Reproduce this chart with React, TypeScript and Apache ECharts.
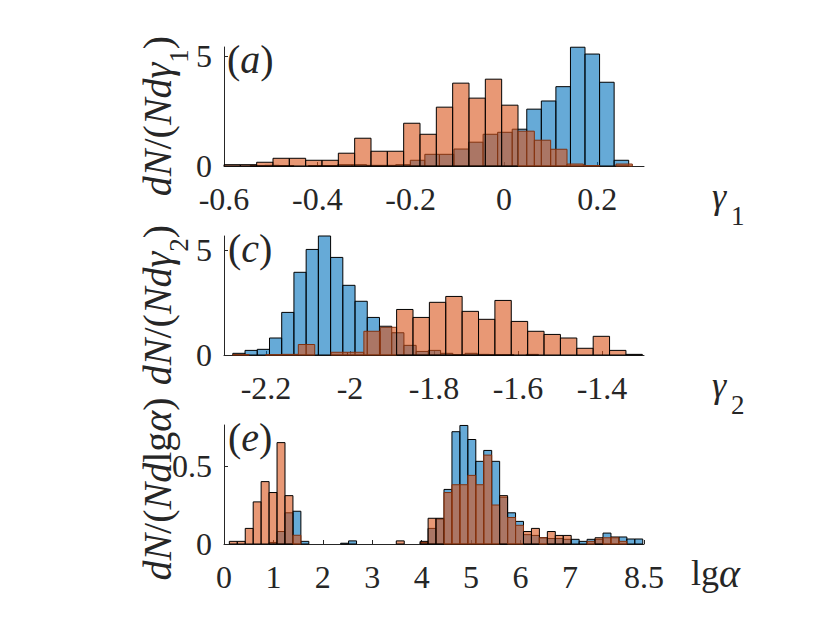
import React, { useEffect, useRef } from "react";
import * as echarts from "echarts";

// ---------- Panel (a): gamma_1 ----------
const aBlueStart = -0.544;
const aBlueWidth = 0.0312;
const aBlue = [0.02, 0.03, 0.02, 0, 0.02, 0.02, 0.06, 0.06, 0.03, 0.03, 0.06, 0.26, 0.53, 0.53, 0.77, 1.08, 1.44, 1.53, 1.67, 2.58, 2.95, 3.6, 5.39, 5.08, 3.8, 0.26];
const aOrangeStart = -0.6;
const aOrangeWidth = 0.035;
const aOrange = [0.06, 0.06, 0.17, 0.35, 0.35, 0.26, 0.26, 0.58, 1.26, 0.67, 0.67, 1.94, 1.44, 2.67, 3.76, 3.08, 3.94, 2.76, 1.58, 1.17, 0.76, 0.09, 0.02, 0, 0.09];
const aXRange = [-0.6, 0.3];
const aYRange = [0, 5.4];
const aXTicks = [-0.6, -0.4, -0.2, 0, 0.2];
const aYTicks = [0, 5];

// ---------- Panel (c): gamma_2 ----------
const cBlueStart = -2.279;
const cBlueWidth = 0.0291;
const cBlue = [0.08, 0.22, 0.27, 0.81, 2.03, 3.94, 5.03, 5.67, 4.65, 3.32, 2.56, 1.79, 1.37, 1.06, 0.46, 0.17, 0.22, 0.08, 0.02, 0.08, 0.03, 0.02, 0.02, 0, 0.03];
const cOrangeStart = -2.279;
const cOrangeWidth = 0.039;
const cOrange = [0.02, 0, 0.01, 0.03, 0.5, 0, 0.13, 0.13, 1.13, 1.32, 2.17, 1.79, 2.51, 2.79, 2.08, 1.7, 2.6, 1.6, 1.13, 0.98, 0.81, 0.32, 0.89, 0.22, 0.03];
const cXRange = [-2.3, -1.3];
const cYRange = [0, 5.67];
const cXTicks = [-2.2, -2, -1.8, -1.6, -1.4];
const cYTicks = [0, 5];

// ---------- Panel (e): lg alpha ----------
const eStart = 0.108;
const eWidth = 0.1609;
const eBlue = [0, 0, 0, 0, 0, 0.01, 0.08, 0.2, 0.21, 0.017, 0, 0, 0, 0, 0.005, 0.02, 0, 0, 0, 0, 0, 0, 0, 0, 0.01, 0.1, 0.16, 0.35, 0.72, 0.76, 0.67, 0.53, 0.6, 0.53, 0.3, 0.2, 0.145, 0.06, 0.055, 0.04, 0.035, 0.035, 0.03, 0.03, 0.017, 0.03, 0.03, 0.07, 0.045, 0.045, 0.032, 0.032];
const eOrange = [0.017, 0.017, 0.1, 0.27, 0.4, 0.33, 0.65, 0.31, 0.056, 0, 0, 0, 0, 0, 0, 0, 0, 0, 0, 0, 0, 0.02, 0, 0, 0.017, 0.165, 0.165, 0.33, 0.38, 0.38, 0.44, 0.38, 0.57, 0.25, 0.31, 0.17, 0.12, 0.08, 0.1, 0.04, 0.08, 0.055, 0.055, 0, 0, 0.017, 0.04, 0.04, 0.04, 0.017, 0, 0];
const eXRange = [0, 8.5];
const eYRange = [0, 0.763];
const eXTicks = [0, 1, 2, 3, 4, 5, 6, 7, 8.5];
const eYTicks = [0, 0.5];

const FONT = "'Liberation Serif', 'Times New Roman', serif";
const INK = "#262626";
const BLUE_FILL = "rgba(0,114,189,0.6)";
const ORANGE_FILL = "rgba(217,83,25,0.6)";

type Bar = [number, number, number, number];

function bars(start: number, width: number, heights: number[]): Bar[] {
  return heights.map((h, i) => [start + i * width, start + (i + 1) * width, h, 0]);
}

function heightAt(list: Bar[], x: number): number {
  for (const b of list) if (x >= b[0] && x < b[1]) return b[2];
  return 0;
}

// orange bars whose top lies inside a blue bar get the edge colour seen through the overlay
function overlay(start: number, width: number, heights: number[], under: Bar[]): Bar[] {
  return bars(start, width, heights).map((b) => {
    const c = (b[0] + b[1]) / 2;
    const hb = heightAt(under, c);
    return [b[0], b[1], b[2], b[2] <= hb ? 1 : 0];
  });
}

const renderHist = (fill: string) => (_params: any, api: any) => {
  const h = api.value(2);
  if (!(h > 0)) return null;
  const p0 = api.coord([api.value(0), h]);
  const p1 = api.coord([api.value(1), 0]);
  const stroke = api.value(3) === 1 ? "#82320f" : "#000000";
  return {
    type: "rect",
    shape: { x: p0[0], y: p0[1], width: p1[0] - p0[0], height: p1[1] - p0[1] },
    style: { fill, stroke, lineWidth: 1 },
  };
};

function xAxisCfg(gridIndex: number, range: number[], ticks: number[]) {
  return {
    type: "value",
    gridIndex,
    min: range[0],
    max: range[1],
    axisLine: { show: true, onZero: false, lineStyle: { color: INK, width: 1 } },
    axisTick: { show: true, inside: true, length: 4, customValues: ticks, lineStyle: { color: INK } },
    axisLabel: {
      show: true,
      customValues: ticks,
      fontFamily: FONT,
      fontSize: 32,
      color: INK,
      margin: 17,
      formatter: (v: number) => String(v),
    },
    splitLine: { show: false },
  };
}

function yAxisCfg(gridIndex: number, range: number[], ticks: number[]) {
  return {
    type: "value",
    gridIndex,
    min: range[0],
    max: range[1],
    axisLine: { show: true, onZero: false, lineStyle: { color: INK, width: 1 } },
    axisTick: { show: true, inside: true, length: 4, customValues: ticks, lineStyle: { color: INK } },
    axisLabel: {
      show: true,
      customValues: ticks,
      fontFamily: FONT,
      fontSize: 32,
      color: INK,
      margin: 12,
      formatter: (v: number) => String(v),
    },
    splitLine: { show: false },
  };
}

const richBase = {
  n: { fontFamily: FONT, fontSize: 40, fill: INK, color: INK },
  i: { fontFamily: FONT, fontSize: 40, fontStyle: "italic", fill: INK, color: INK },
  s: { fontFamily: FONT, fontSize: 27, fill: INK, color: INK, padding: [44, 0, 0, 0] },
};

function txt(x: number, y: number, text: string, opts: any = {}) {
  return {
    type: "text",
    x,
    y,
    rotation: opts.rotation || 0,
    silent: true,
    style: {
      text,
      rich: richBase,
      fontFamily: FONT,
      fontSize: opts.fontSize || 40,
      fontStyle: opts.fontStyle || "normal",
      fill: INK,
      textAlign: opts.align || "left",
      align: opts.align || "left",
      textVerticalAlign: "middle",
      verticalAlign: "middle",
    },
  };
}

export default function App() {
  const ref = useRef<HTMLDivElement>(null);

  useEffect(() => {
    document.body.style.margin = "0";
    if (!ref.current) return;
    const chart = echarts.init(ref.current, undefined, { renderer: "svg" });

    const aB = bars(aBlueStart, aBlueWidth, aBlue);
    const aO = overlay(aOrangeStart, aOrangeWidth, aOrange, aB);
    const cB = bars(cBlueStart, cBlueWidth, cBlue);
    const cO = overlay(cOrangeStart, cOrangeWidth, cOrange, cB);
    const eB = bars(eStart, eWidth, eBlue);
    const eO = overlay(eStart, eWidth, eOrange, eB);

    const series: any[] = [];
    const add = (data: Bar[], fill: string, idx: number) =>
      series.push({
        type: "custom",
        xAxisIndex: idx,
        yAxisIndex: idx,
        renderItem: renderHist(fill),
        encode: { x: [0, 1], y: 2 },
        data,
        silent: true,
      });
    add(aB, BLUE_FILL, 0);
    add(aO, ORANGE_FILL, 0);
    add(cB, BLUE_FILL, 1);
    add(cO, ORANGE_FILL, 1);
    add(eB, BLUE_FILL, 2);
    add(eO, ORANGE_FILL, 2);

    chart.setOption({
      animation: false,
      backgroundColor: "#ffffff",
      textStyle: { fontFamily: FONT },
      grid: [
        { left: 224, top: 47, width: 420, height: 119 },
        { left: 224, top: 236, width: 420, height: 119 },
        { left: 224, top: 425, width: 420, height: 119 },
      ],
      xAxis: [xAxisCfg(0, aXRange, aXTicks), xAxisCfg(1, cXRange, cXTicks), xAxisCfg(2, eXRange, eXTicks)],
      yAxis: [yAxisCfg(0, aYRange, aYTicks), yAxisCfg(1, cYRange, cYTicks), yAxisCfg(2, eYRange, eYTicks)],
      series,
      graphic: [
        txt(227, 59, "({i|a})"),
        txt(228, 248, "({i|c})"),
        txt(228, 437, "({i|e})"),
        txt(157, 116, "{i|dN}/({i|Ndγ}{s|1})", { rotation: Math.PI / 2, align: "center" }),
        txt(157, 305, "{i|dN}/({i|Ndγ}{s|2})", { rotation: Math.PI / 2, align: "center" }),
        txt(157, 489, "{i|dN}/({i|Nd}lg{i|α})", { rotation: Math.PI / 2, align: "center" }),
        txt(712, 196, "γ", { fontSize: 36, fontStyle: "italic" }),
        txt(731, 216, "1", { fontSize: 27 }),
        txt(712, 385, "γ", { fontSize: 36, fontStyle: "italic" }),
        txt(731, 405, "2", { fontSize: 27 }),
        txt(691, 573, "lg{i|α}", { fontSize: 36 }),
      ],
    });

    return () => chart.dispose();
  }, []);

  return <div ref={ref} style={{ width: 840, height: 630 }} />;
}
